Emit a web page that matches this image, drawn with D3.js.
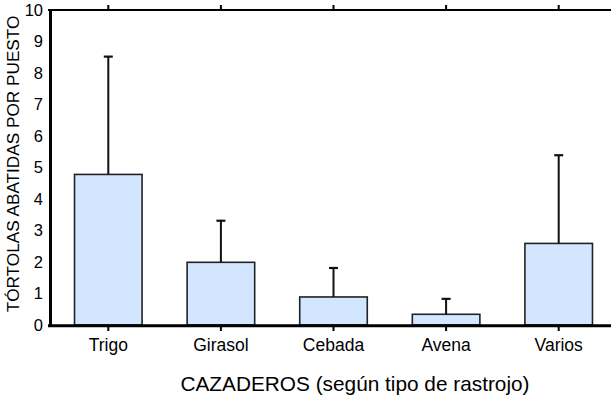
<!DOCTYPE html>
<html><head><meta charset="utf-8">
<script src="https://cdn.jsdelivr.net/npm/d3@7"></script>
<style>body{margin:0;background:#fff}svg{display:block}text{font-family:"Liberation Sans",Arial,sans-serif;fill:#000}</style>
</head><body><svg id="c" width="611" height="397"></svg>
<script>
const categories = ["Trigo","Girasol","Cebada","Avena","Varios"];
const means = [4.78, 1.99, 0.89, 0.34, 2.59];
const upper = [8.52, 3.31, 1.81, 0.83, 5.39];
const yTicks = [0,1,2,3,4,5,6,7,8,9,10];
const xTitle = "CAZADEROS (según tipo de rastrojo)";
const yTitle = "TÓRTOLAS ABATIDAS POR PUESTO";

const svg = d3.select("#c");
const x = d3.scaleBand().domain(categories).range([52, 615]).paddingInner(0.4).paddingOuter(0.2);
const y = d3.scaleLinear().domain([0,10]).range([325, 10]);
const cx = d => x(d) + x.bandwidth()/2;

// bars
svg.selectAll("rect.bar").data(categories).enter().append("rect")
  .attr("x", d => x(d)).attr("width", x.bandwidth())
  .attr("y", (d,i) => y(means[i])).attr("height", (d,i) => y(0) - y(means[i]))
  .attr("fill", "#d2e6ff").attr("stroke", "#222").attr("stroke-width", 1.6);

// error bars
svg.selectAll("line.err").data(categories).enter().append("line")
  .attr("x1", cx).attr("x2", cx)
  .attr("y1", (d,i) => y(means[i])).attr("y2", (d,i) => y(upper[i]))
  .attr("stroke", "#111").attr("stroke-width", 2);
svg.selectAll("line.cap").data(categories).enter().append("line")
  .attr("x1", d => cx(d) - 4.5).attr("x2", d => cx(d) + 4.5)
  .attr("y1", (d,i) => y(upper[i])).attr("y2", (d,i) => y(upper[i]))
  .attr("stroke", "#111").attr("stroke-width", 2.2);

// frame lines
svg.append("line").attr("x1", 48).attr("x2", 611).attr("y1", y(10)).attr("y2", y(10)).attr("stroke", "#000").attr("stroke-width", 2.2);
svg.append("line").attr("x1", 48).attr("x2", 611).attr("y1", y(0)+0.8).attr("y2", y(0)+0.8).attr("stroke", "#000").attr("stroke-width", 3);
svg.append("line").attr("x1", 50.5).attr("x2", 50.5).attr("y1", y(10)).attr("y2", y(0)+2).attr("stroke", "#000").attr("stroke-width", 3);

// x axis ticks (bottom, down) and top ticks (up)
const xb = svg.append("g").attr("transform", `translate(0,${y(0)+2})`)
  .call(d3.axisBottom(x).tickSize(4).tickPadding(8));
xb.select(".domain").remove();
xb.selectAll(".tick line").attr("stroke", "#000").attr("stroke-width", 2);
xb.selectAll(".tick text").attr("font-size", 17.5).attr("font-family", "Liberation Sans, Arial, sans-serif").attr("fill","#000");

const xt = svg.append("g").attr("transform", `translate(0,${y(10)-1})`)
  .call(d3.axisTop(x).tickSize(4).tickFormat(""));
xt.select(".domain").remove();
xt.selectAll(".tick line").attr("stroke", "#000").attr("stroke-width", 2);

// y axis labels
const ya = svg.append("g").attr("transform", "translate(49,0)")
  .call(d3.axisLeft(y).tickValues(yTicks).tickSize(0).tickPadding(6).tickFormat(d3.format("d")));
ya.select(".domain").remove();
ya.selectAll(".tick text").attr("font-size", 16.5).attr("font-family", "Liberation Sans, Arial, sans-serif").attr("fill","#000");

// titles
svg.append("text").attr("x", 355).attr("y", 391).attr("text-anchor", "middle")
  .attr("font-size", 20.8).text(xTitle);
svg.append("text").attr("transform", "translate(19,164) rotate(-90)").attr("text-anchor", "middle")
  .attr("font-size", 17.2).text(yTitle);
</script></body></html>
